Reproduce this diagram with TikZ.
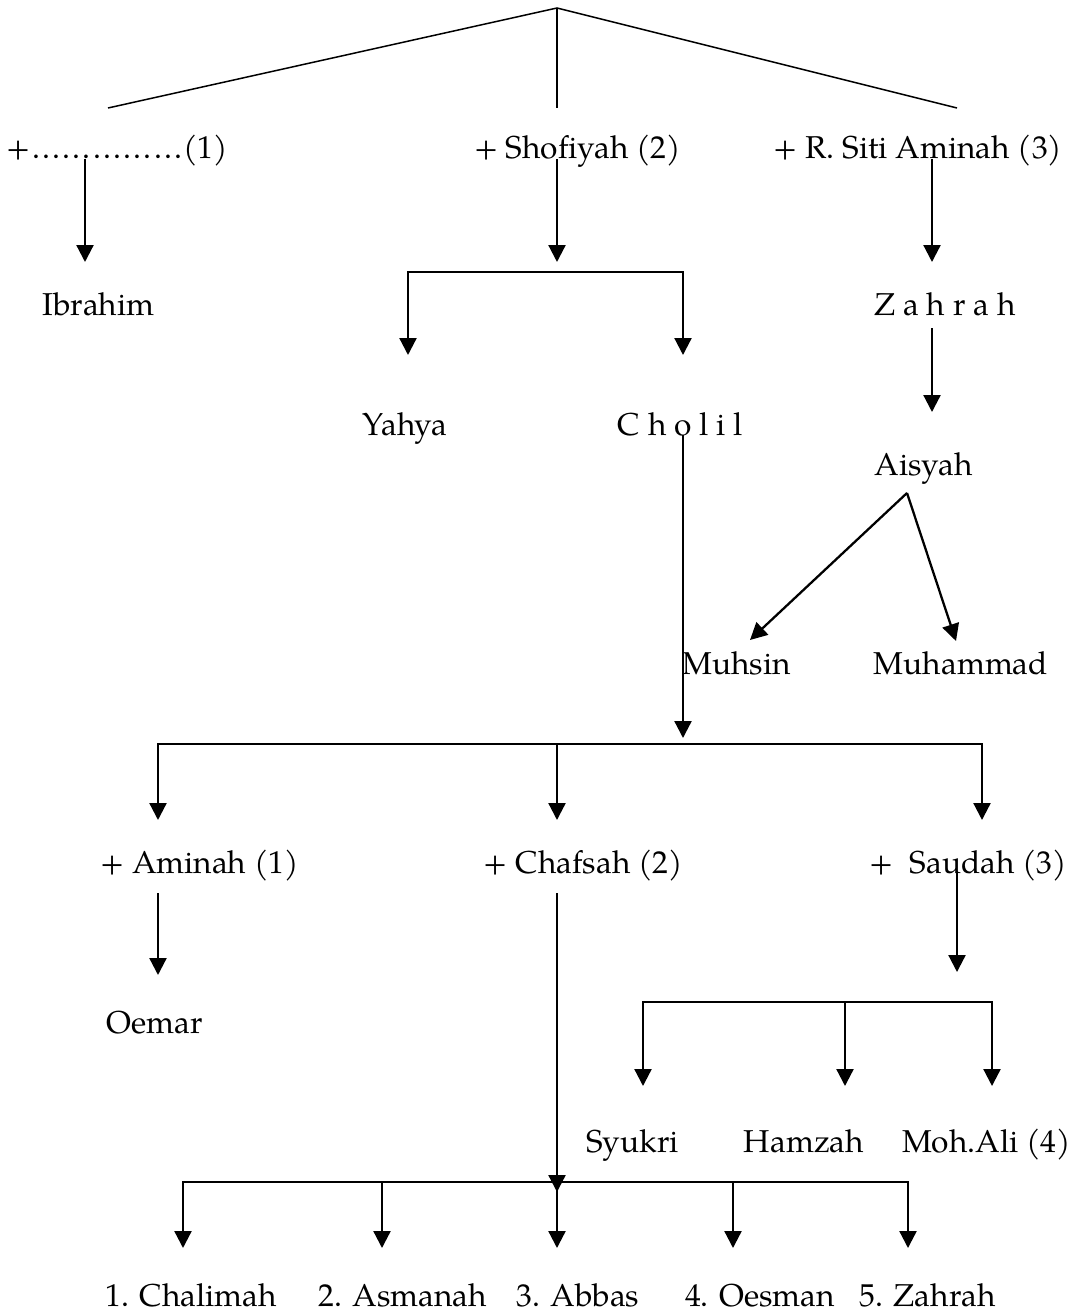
\documentclass[tikz,border=0pt]{standalone}
\usepackage{fontspec}
\setmainfont{TeX Gyre Pagella}
\usetikzlibrary{arrows.meta, positioning, calc}

\newcommand{\blankdots}{\hbox to 3.05cm{\xleaders\hbox to 0.2033cm{\hss.\hss}\hfill}}

\tikzset{
	person/.style={anchor=base, inner sep=0pt, font=\fontsize{18}{22}\selectfont},
	link/.style={line width=1.3pt},
	thinlink/.style={line width=0.85pt},
	arr/.style={link, -{Triangle[length=0.34cm, width=0.34cm]}}
}

\begin{document}
\begin{tikzpicture}[x=0.02cm, y=-0.02cm]
	\useasboundingbox (0,0) rectangle (1075,1314);

	% wives
	\node[person] (w1) at (117.5,159) {+\blankdots(1)};
	\node[person] (w2) at (577.5,159) {+ Shofiyah (2)};
	\node[person] (w3) at (918,159) {+ R. Siti Aminah (3)};

	\coordinate (top) at (557,8);
	\coordinate (topL) at (108,108);
	\coordinate (topM) at (557,108);
	\coordinate (topR) at (957,108);
	\draw[thinlink] (topL) -- (top) -- (topR);
	\draw[thinlink] (top) -- (topM);

	% children
	\node[person] (ibr) at (98.5,316) {Ibrahim};
	\node[person] (zah) at (945,316) {Z a h r a h};
	\node[person] (yah) at (405,435) {Yahya};
	\node[person] (cho) at (680.5,435) {C h o l i l};
	\node[person] (ais) at (923.5,475) {Aisyah};
	\node[person] (muh) at (736.5,674) {Muhsin};
	\node[person] (mhd) at (961,674) {Muhammad};

	\coordinate (ibrA) at (85,262);
	\coordinate (shoA) at (557,262);
	\coordinate (zahA) at (932,262);
	\draw[arr] (ibrA |- w1.base) -- (ibrA);
	\draw[arr] (shoA |- w2.base) -- (shoA);
	\draw[arr] (zahA |- w3.base) -- (zahA);

	\coordinate (br1) at (557,272);
	\coordinate (yahA) at (408,355);
	\coordinate (choA) at (683,355);
	\draw[arr] (br1) -| (yahA);
	\draw[arr] (br1) -| (choA);

	\coordinate (aisA) at (932,412);
	\draw[arr] ($(aisA |- zah.base)+(0,12)$) -- (aisA);
	\coordinate (aisP) at (907,493);
	\path[arr] (aisP) edge (750,640) edge (956,641);

	% Cholil's wives
	\node[person] (ami) at (199.5,873) {+ Aminah (1)};
	\node[person] (chf) at (583.5,873) {+ Chafsah (2)};
	\node[person] (sau) at (968.5,873) {+\ \ Saudah (3)};

	\coordinate (choB) at (683,738);
	\draw[arr] (choB |- cho.base) -- (choB);
	\coordinate (br2) at (557,744);
	\coordinate (amiA) at (158,820);
	\coordinate (chfA) at (557,820);
	\coordinate (sauA) at (982,820);
	\draw[arr] (br2) -| (amiA);
	\draw[arr] (br2) -| (sauA);
	\draw[arr] (br2) -- (chfA);

	% grandchildren
	\node[person] (oem) at (154.5,1033) {Oemar};
	\node[person] (syu) at (632.5,1152) {Syukri};
	\node[person] (ham) at (804,1152) {Hamzah};
	\node[person] (mal) at (986.5,1152) {Moh.Ali (4)};

	\coordinate (oemA) at (158,975);
	\draw[arr] ($(oemA |- ami.base)+(0,20)$) -- (oemA);

	\coordinate (sauB) at (957,972);
	\draw[arr] (sauB |- sau.base) -- (sauB);
	\coordinate (br3) at (845,1002);
	\coordinate (syuA) at (643,1086);
	\coordinate (hamA) at (845,1086);
	\coordinate (malA) at (992,1086);
	\draw[arr] (br3) -| (syuA);
	\draw[arr] (br3) -| (malA);
	\draw[arr] (br3) -- (hamA);

	\node[person] (c1) at (191,1306) {1. Chalimah};
	\node[person] (c2) at (402.5,1306) {2. Asmanah};
	\node[person] (c3) at (578,1306) {3. Abbas};
	\node[person] (c4) at (760,1306) {4. Oesman};
	\node[person] (c5) at (927.5,1306) {5. Zahrah};

	\coordinate (chfB) at (557,1192);
	\draw[arr] ($(chfB |- chf.base)+(0,20)$) -- (chfB);
	\coordinate (br4) at (557,1182);
	\coordinate (c1A) at (183,1248);
	\coordinate (c2A) at (382,1248);
	\coordinate (c3A) at (557,1248);
	\coordinate (c4A) at (733,1248);
	\coordinate (c5A) at (908,1248);
	\draw[arr] (br4) -| (c1A);
	\draw[arr] (br4) -| (c5A);
	\draw[arr] (br4) -- (c3A);
	\draw[arr] (c2A |- br4) -- (c2A);
	\draw[arr] (c4A |- br4) -- (c4A);
\end{tikzpicture}
\end{document}
